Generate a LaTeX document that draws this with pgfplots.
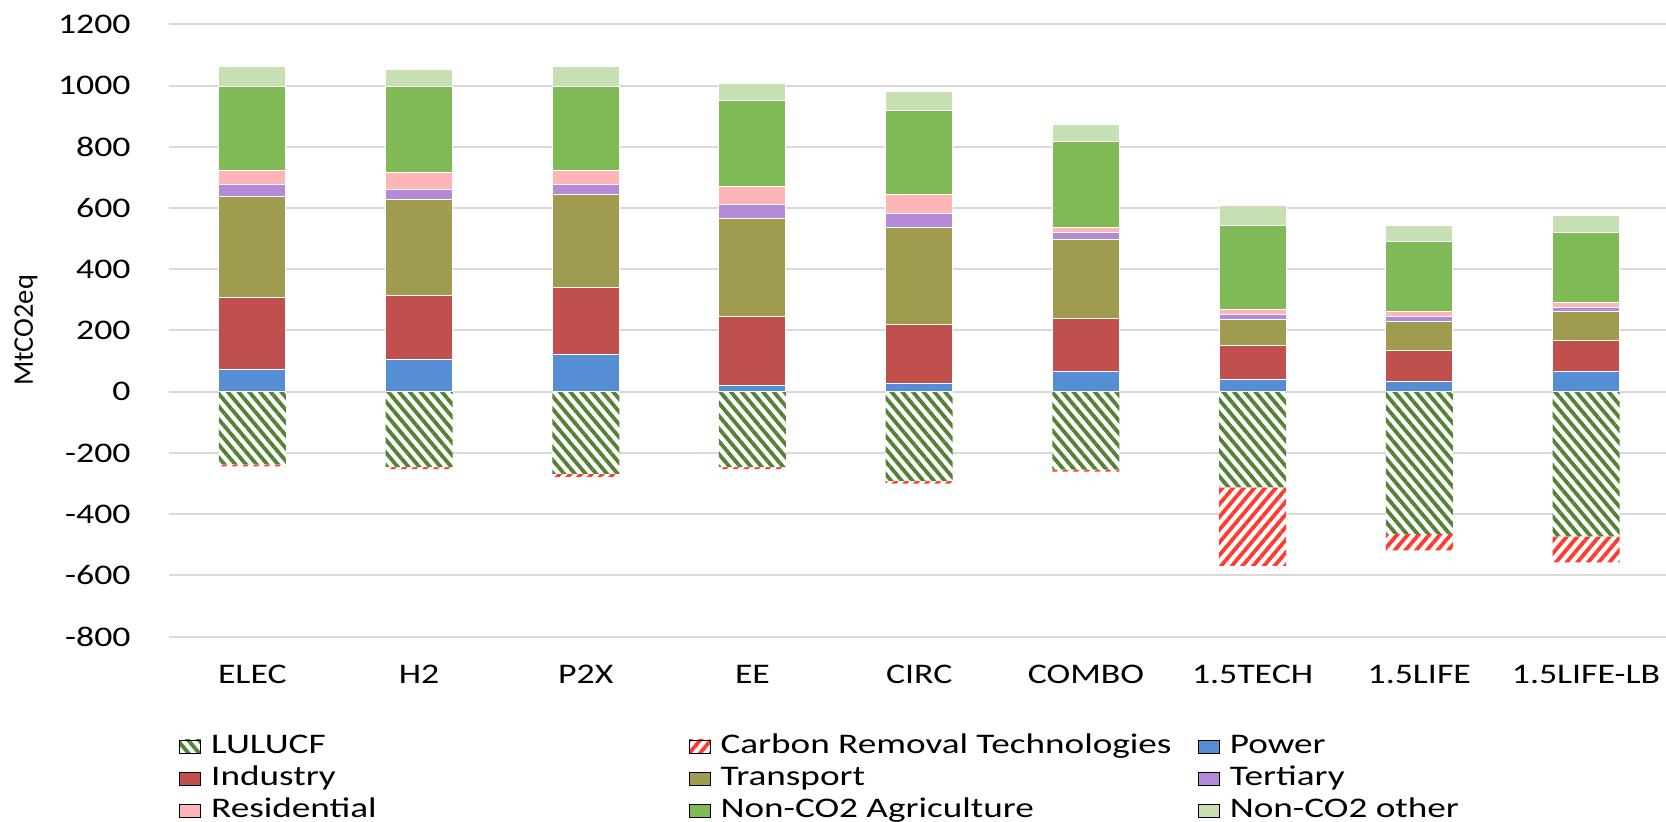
\documentclass[border=0pt]{standalone}
\usepackage{pgfplots}
\pgfplotsset{compat=1.18}
\usepackage{pgfplotstable}
\usetikzlibrary{patterns.meta}
\usepackage{fontspec}
\setmainfont{Carlito}[FakeStretch=1.26]
\newfontfamily\plainfont{Carlito}
\newfontfamily\legfont{Carlito}[FakeStretch=1.31]

\definecolor{cPower}{HTML}{558ED5}
\definecolor{cIndustry}{HTML}{C0504D}
\definecolor{cTransport}{HTML}{9F9B4F}
\definecolor{cTertiary}{HTML}{B588D8}
\definecolor{cResidential}{HTML}{FFB5B8}
\definecolor{cAgri}{HTML}{7FBA57}
\definecolor{cOther}{HTML}{C6E0B4}
\definecolor{cLul}{HTML}{548235}
\definecolor{cCrt}{HTML}{FF3B30}
\definecolor{gridgray}{HTML}{D9D9D9}

\pgfplotstableread{
x lulucf crt power industry transport tertiary residential agri other
0 -237 -7   73  235 330 39 47 274 65
1 -246 -7   104 210 315 30 56 282 56
2 -268 -10  120 219 306 32 47 274 65
3 -246 -7   19  226 321 47 56 282 54
4 -292 -8   27  194 314 47 63 274 63
5 -254 -7   65  173 258 24 16 282 54
6 -312 -257 41  109 87  15 17 273 65
7 -464 -54  34  102 92  17 16 228 55
8 -472 -85  65  103 93  15 17 227 56
}\data

\pgfplotsset{
  sq/.style={legend image code/.code={\fill[##1] (0pt,-3.25pt) rectangle (10.5pt,3.25pt);}},
  common/.style={
    at={(0pt,0pt)}, anchor=south west,
    width=748.5pt, height=306.2pt, scale only axis,
    xmin=-0.5, xmax=8.48, ymin=-800, ymax=1200,
    enlargelimits=false,
    ybar stacked, bar width=33.5pt,
  },
  solid/.style={fill=#1, draw=white, line width=0.5pt, forget plot},
}
\newcommand{\fs}{\fontsize{14.2}{17}\selectfont}
\newcommand{\lw}[1]{\makebox[233.75pt][l]{#1}}

\begin{document}
\begin{tikzpicture}
\begin{axis}[common,
  axis line style={draw=none},
  major tick length=0pt,
  ytick={-800,-600,...,1200},
  xtick={0,...,8},
  xticklabels={ELEC,H2,P2X,EE,CIRC,COMBO,1.5TECH,1.5LIFE,1.5LIFE-LB},
  ymajorgrids,
  grid style={draw=gridgray, line width=1pt},
  /pgf/number format/assume math mode=true,
  /pgf/number format/1000 sep={},
  yticklabel style={font=\fs, anchor=east, inner sep=0pt, xshift=-19pt},
  xticklabel style={font=\fs, anchor=center, inner sep=0pt, yshift=-18.65pt},
  ylabel={\plainfont MtCO2eq},
  ylabel style={font=\fs, at={(axis description cs:-0.0955,0.5)}, anchor=center},
]
\addplot[fill=white, draw=none, forget plot,
  postaction={pattern={Lines[angle=-50,distance=4.1pt,line width=1.9pt]}, pattern color=cLul}]
  table[x=x,y=lulucf]{\data};
\addplot[fill=white, draw=none, forget plot,
  postaction={pattern={Lines[angle=50,distance=4.1pt,line width=1.9pt]}, pattern color=cCrt}]
  table[x=x,y=crt]{\data};
\end{axis}

\begin{axis}[common,
  hide axis,
  legend columns=3,
  legend cell align=left,
  legend style={draw=none, fill=none, inner sep=0pt, font=\fs\legfont,
    column sep=5pt, row sep=3pt,
    nodes={inner sep=0pt, text height=10pt, text depth=3pt},
    at={(axis description cs:0.0067,-0.1573)}, anchor=north west},
]
\addplot[solid=cPower] table[x=x,y=power]{\data};
\addplot[solid=cIndustry] table[x=x,y=industry]{\data};
\addplot[solid=cTransport] table[x=x,y=transport]{\data};
\addplot[solid=cTertiary] table[x=x,y=tertiary]{\data};
\addplot[solid=cResidential] table[x=x,y=residential]{\data};
\addplot[solid=cAgri] table[x=x,y=agri]{\data};
\addplot[solid=cOther] table[x=x,y=other]{\data};

\addlegendimage{legend image code/.code={\fill[white] (0pt,-3.25pt) rectangle (10.5pt,3.25pt);
  \fill[pattern={Lines[angle=-50,distance=4.1pt,line width=1.9pt]}, pattern color=cLul] (0pt,-3.25pt) rectangle (10.5pt,3.25pt);}}
\addlegendentry{\lw{LULUCF}}
\addlegendimage{legend image code/.code={\fill[white] (0pt,-3.25pt) rectangle (10.5pt,3.25pt);
  \fill[pattern={Lines[angle=50,distance=4.1pt,line width=1.9pt]}, pattern color=cCrt] (0pt,-3.25pt) rectangle (10.5pt,3.25pt);}}
\addlegendentry{\lw{Carbon Removal Technologies}}
\addlegendimage{sq, fill=cPower}\addlegendentry{Power}
\addlegendimage{sq, fill=cIndustry}\addlegendentry{\lw{Industry}}
\addlegendimage{sq, fill=cTransport}\addlegendentry{\lw{Transport}}
\addlegendimage{sq, fill=cTertiary}\addlegendentry{Tertiary}
\addlegendimage{sq, fill=cResidential}\addlegendentry{\lw{Residential}}
\addlegendimage{sq, fill=cAgri}\addlegendentry{\lw{Non-CO2 Agriculture}}
\addlegendimage{sq, fill=cOther}\addlegendentry{Non-CO2 other}
\end{axis}
\pgfresetboundingbox
\path[use as bounding box] (-84.5pt,-92.65pt) rectangle (748.5pt,318.35pt);
\end{tikzpicture}
\end{document}
